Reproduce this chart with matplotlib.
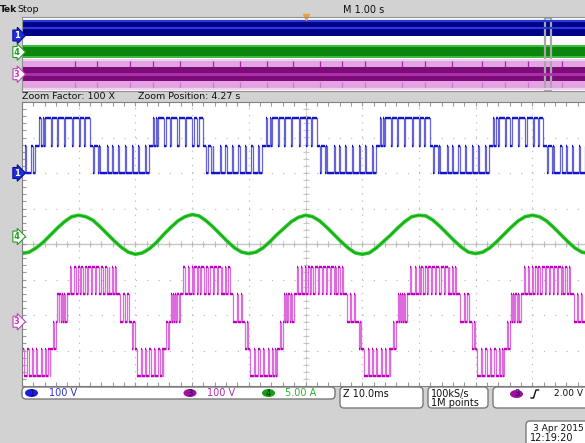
import numpy as np
import matplotlib.pyplot as plt
from matplotlib.patches import FancyBboxPatch, Rectangle, Ellipse
from matplotlib.lines import Line2D
from matplotlib.transforms import IdentityTransform, blended_transform_factory

W, H = 585, 443

# Vertical setup of the channels (divisions from screen centre)
CH1_POS = 2.0
CH3_POS = -2.19
CH4_POS = 0.21
CH1_V_PER_DIV = 100.0
CH3_V_PER_DIV = 100.0
CH4_A_PER_DIV = 5.0

# Inverter output levels, volts
CH1_LEVELS = [0, 77, 154]
CH3_LEVELS = [-154, -77, 0, 77, 154]

# One 20 ms fundamental period: (start ms, end ms, base level, pulse level)
CH1_SECTIONS = [(0.0, 7.9, 2, 1), (7.9, 9.7, 1, 0), (9.7, 18.3, 0, 1), (18.3, 20.0, 1, 2)]
CH1_PULSES = [1.06, 2.06, 3.35, 4.71, 6.0, 6.88, 8.47, 9.35, 10.9, 11.8, 12.9,
              14.1, 15.3, 16.4, 17.6, 19.0, 19.6]
CH1_CYCLES = [-15.94, 4.06, 24.06, 44.06, 64.06, 84.06]

CH3_SECTIONS = [(0.0, 1.06, 1, 2), (1.06, 3.0, 2, 3), (3.0, 5.47, 3, 4), (5.47, 10.4, 4, 3),
                (10.4, 12.35, 3, 4), (12.35, 14.46, 2, 3), (14.46, 15.34, 1, 2), (15.34, 20.0, 0, 1)]
CH3_PULSES = [0.53, 1.29, 1.64, 2.06, 2.47, 3.53, 4.29, 4.99, 5.87, 6.47, 7.23, 7.94,
              8.69, 9.40, 10.11, 10.88, 11.46, 12.93, 13.63, 14.69, 16.0, 16.77, 17.53,
              18.36, 19.12, 19.7]
CH3_CYCLES = [-15.06, 4.94, 24.94, 44.94, 64.94, 84.94]
PULSE_WIDTH_MS = 0.22

# Phase current, amps, sampled every 1.25 ms
CH4_STEP_MS = 1.25
CH4_AMPS = [
    -2.4, -2.2, -1.6, -0.8, 0.2, 1.2, 2.1, 2.8, 3.0, 2.8, 2.3, 1.4, 0.4, -0.6, -1.5, -2.2,
    -2.5, -2.3, -1.7, -0.8, 0.3, 1.3, 2.2, 2.8, 3.1, 2.9, 2.2, 1.3, 0.3, -0.7, -1.6, -2.2,
    -2.4, -2.2, -1.6, -0.7, 0.3, 1.2, 2.1, 2.7, 3.0, 2.8, 2.2, 1.3, 0.3, -0.7, -1.6, -2.3,
    -2.5, -2.3, -1.6, -0.7, 0.2, 1.2, 2.1, 2.8, 3.0, 2.9, 2.3, 1.4, 0.4, -0.6, -1.5, -2.2,
    -2.4, -2.2, -1.6, -0.7, 0.3, 1.3, 2.2, 2.8, 3.0, 2.8, 2.2, 1.3, 0.3, -0.7, -1.6, -2.2,
    -2.4,
]

# Streaks in the overview record of ch3 (fraction of record length)
OV_CH3_STREAKS = [0.094, 0.133, 0.191, 0.231, 0.279, 0.337, 0.385, 0.432, 0.478, 0.526,
                  0.565, 0.605, 0.670, 0.711, 0.758, 0.811, 0.852, 0.892, 0.952]

BLUE = '#1414c8'
BLUE_EDGE = '#6464d8'
MAGENTA = '#c000c0'
MAGENTA_EDGE = '#dc6cdc'
GREEN = '#2ccc2c'
GREEN_DARK = '#14a014'
BG = '#d2d2d2'


def build_steps(sections, pulses, cycles, levels):
    t, v = [], []
    for t0 in cycles:
        for a, b, base, alt in sections:
            t.append(t0 + a)
            v.append(levels[base])
            for p in pulses:
                if a <= p < b:
                    t += [t0 + p, t0 + p + PULSE_WIDTH_MS]
                    v += [levels[alt], levels[base]]
    return np.array(t), np.array(v, dtype=float)


def draw_steps(ax, t, v, dark, light):
    ax.plot(t, v, drawstyle='steps-post', color=light, lw=0.9)
    ax.hlines(v[:-1], t[:-1], t[1:], color=dark, lw=1.7)


def px(x, y):
    return x, H - y


def label(x, y, s, color='#101010', size=7, **kw):
    fig.text(x, H - y, s, transform=IdentityTransform(), color=color, fontsize=size,
             va='center', ha=kw.pop('ha', 'left'), **kw)


def channel_flag(ax, ypos, s, fc, ec, tc):
    tr = blended_transform_factory(ax.transAxes, ax.transData)
    ax.text(-0.004, ypos, s, transform=tr, ha='right', va='center', fontsize=6,
            fontweight='bold', color=tc,
            bbox=dict(boxstyle='rarrow,pad=0.12', fc=fc, ec=ec, lw=0.8))


fig = plt.figure(figsize=(W / 100, H / 100), dpi=100, facecolor=BG)

# ---- zoomed graticule ----
ax = fig.add_axes([22 / W, 1 - 386 / H, 567 / W, 284 / H])
ax.set_facecolor('white')
ax.set_xlim(0, 100)
ax.set_ylim(-4, 4)
ax.set_xticks(np.arange(0, 101, 10))
ax.set_yticks(np.arange(-4, 4.1, 1))
ax.set_xticks(np.arange(0, 101, 2), minor=True)
ax.set_yticks(np.arange(-4, 4.01, 0.2), minor=True)
ax.tick_params(which='both', direction='in', top=True, right=True, length=3,
               labelbottom=False, labelleft=False, color='#9a9a9a', width=0.8)
ax.xaxis.grid(True, which='major', color='#b4b4b4', lw=0.8, linestyle=(0, (1, 5.4)))
ax.yaxis.grid(True, which='major', color='#b4b4b4', lw=0.8, linestyle=(0, (1, 9.2)))
for s in ax.spines.values():
    s.set_color('#808080')
ax.axhline(0, color='#c8c8c8', lw=1.0, zorder=1)
ax.axvline(50, color='#dcdcdc', lw=0.8, zorder=1)
ax.scatter(np.arange(0, 100.1, 2), np.zeros(51), marker='|', s=14, color='#c0c0c0', lw=0.8, zorder=1)
ax.scatter(np.full(41, 50.0), np.arange(-4, 4.01, 0.2), marker='_', s=14, color='#c8c8c8', lw=0.8, zorder=1)

t1, v1 = build_steps(CH1_SECTIONS, CH1_PULSES, CH1_CYCLES, CH1_LEVELS)
draw_steps(ax, t1, CH1_POS + v1 / CH1_V_PER_DIV, BLUE, BLUE_EDGE)

t3, v3 = build_steps(CH3_SECTIONS, CH3_PULSES, CH3_CYCLES, CH3_LEVELS)
draw_steps(ax, t3, CH3_POS + v3 / CH3_V_PER_DIV, MAGENTA, MAGENTA_EDGE)

t4 = np.arange(len(CH4_AMPS)) * CH4_STEP_MS
y4 = CH4_POS + np.array(CH4_AMPS) / CH4_A_PER_DIV
ax.plot(t4, y4, color=GREEN, lw=2.6, solid_joinstyle='round')
ax.plot(t4, y4, color=GREEN_DARK, lw=0.8)

channel_flag(ax, CH1_POS, '1', '#1e2ee0', '#0a0a90', 'white')
channel_flag(ax, CH4_POS, '4', 'white', '#20a020', '#20a020')
channel_flag(ax, CH3_POS, '3', 'white', '#c040c0', '#c040c0')

# ---- record overview ----
ov = fig.add_axes([22 / W, 1 - 91 / H, 567 / W, 74 / H])
ov.set_facecolor('white')
ov.set_xlim(0, 1)
ov.set_ylim(-4, 4)
ov.set_xticks([])
ov.set_yticks([])
for s in ov.spines.values():
    s.set_color('#909090')

c1 = CH1_POS + np.array(CH1_LEVELS) / CH1_V_PER_DIV
ov.fill_between([0, 1], c1.min(), c1.max(), color='#000088', lw=0)
ov.hlines(c1[1:], 0, 1, color='#2a3ad8', lw=1.6)

i4 = CH4_POS + np.array(CH4_AMPS) / CH4_A_PER_DIV
ov.fill_between([0, 1], i4.min() - 0.12, i4.max() + 0.12, color='#3cbc3c', lw=0)
ov.fill_between([0, 1], i4.min() + 0.1, i4.max() - 0.1, color='#0a860a', lw=0)

c3 = CH3_POS + np.array(CH3_LEVELS) / CH3_V_PER_DIV
ov.fill_between([0, 1], c3.min(), c3.max(), color='#e4a4e4', lw=0)
ov.vlines(OV_CH3_STREAKS, c3[3] + 0.05, c3[4] - 0.1, color='#9a2a9a', lw=0.9)
ov.vlines(OV_CH3_STREAKS, c3[0] + 0.1, c3[1] - 0.05, color='#c878c8', lw=0.9)
ov.fill_between([0, 1], c3[1], c3[3], color='#7c0c78', lw=0)
ov.hlines(c3[2], 0, 1, color='#b030b0', lw=2.0)
ov.hlines([c3[0], c3[4]], 0, 1, color='#f0d0f0', lw=1.5)

ov.add_patch(Rectangle((0.922, 0.01), 0.0106, 0.98, transform=ov.transAxes,
                       fill=False, ec='#a8a8a8', lw=1.6))
channel_flag(ov, CH1_POS, '1', '#1e2ee0', '#0a0a90', 'white')
channel_flag(ov, CH4_POS, '4', 'white', '#20a020', '#20a020')
channel_flag(ov, CH3_POS, '3', 'white', '#c040c0', '#c040c0')
ov.plot([0.5], [1.0], marker='v', ms=5, color='#f0a030', transform=ov.transAxes, clip_on=False)

# ---- header and status text ----
label(-0.5, 10, 'Tek', size=6.5, fontweight='bold')
label(17, 10, 'Stop', size=6.8)
label(343, 10, 'M 1.00 s', size=7)
label(22, 96.5, 'Zoom Factor: 100 X', size=6.8)
label(138, 96.5, 'Zoom Position: 4.27 s', size=6.8)


def box(x0, y0, x1, y1):
    fig.add_artist(FancyBboxPatch(px(x0, y1), x1 - x0, y1 - y0,
                                  boxstyle='round,pad=0,rounding_size=4',
                                  transform=IdentityTransform(), fc='white', ec='#7a7a7a', lw=1.0))


def badge(xc, yc, s, color):
    fig.add_artist(Ellipse(px(xc, yc), 13, 8, transform=IdentityTransform(), fc=color, ec='none'))
    fig.text(xc, H - yc, s, transform=IdentityTransform(), fontsize=6, ha='center', va='center',
             color='#101040')


box(22, 387, 335, 399)
box(340, 387, 423, 408)
box(428, 387, 488, 408)
box(493, 387, 600, 408)
box(526, 421, 600, 446)

badge(31.5, 393, '1', '#1a1ae6')
label(49, 393, '100 V', color='#3030d8')
badge(190, 393, '3', '#a010a0')
label(207, 393, '100 V', color='#b030b0')
badge(268.5, 393, '4', '#10a010')
label(285, 393, '5.00 A', color='#30b030')

label(343, 394, 'Z 10.0ms')
label(431, 394, '100kS/s')
label(431, 403.5, '1M points')
badge(516.5, 394, '3', '#a010a0')
fig.add_artist(Line2D([531, 533.5, 536, 538.5], [H - 398, H - 398, H - 390, H - 390],
                      transform=IdentityTransform(), color='#101010', lw=1.0))
label(554, 394, '2.00 V', size=6.5)
label(533, 428.5, '3 Apr 2015', size=6.6)
label(530, 438, '12:19:20')

fig.savefig('out.png', dpi=100, facecolor=BG)
